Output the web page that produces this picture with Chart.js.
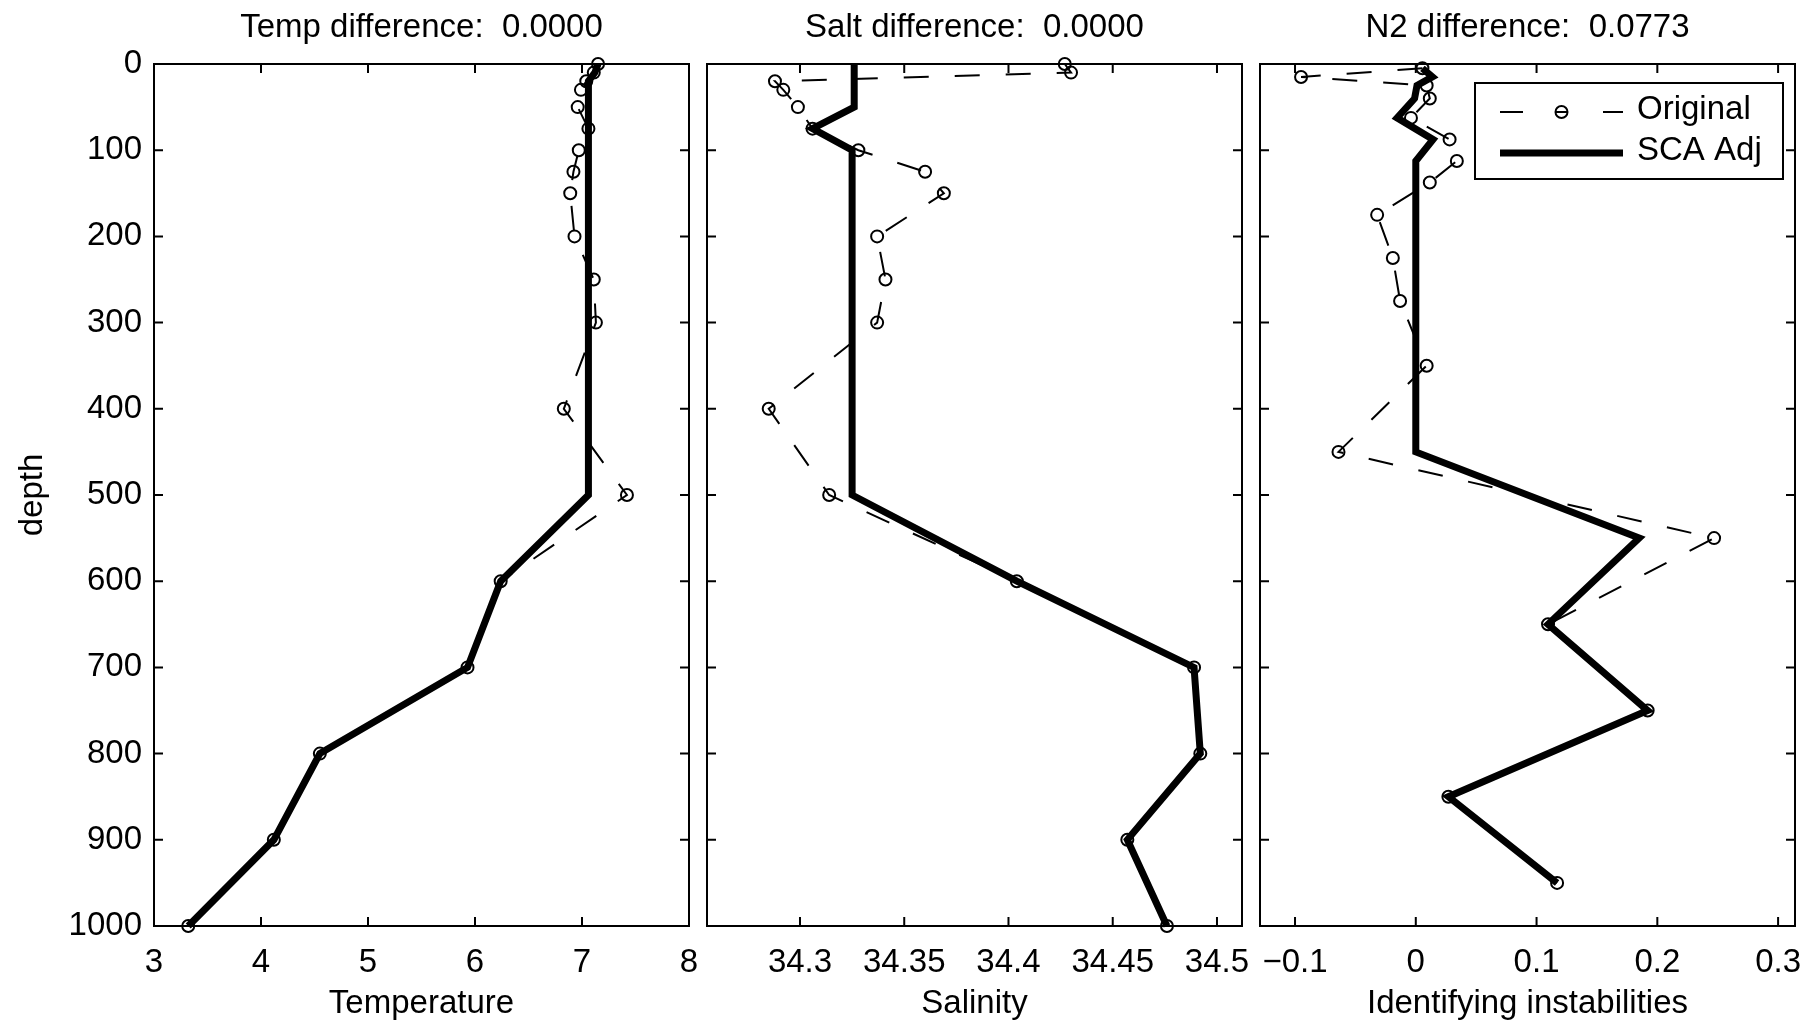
<!DOCTYPE html>
<html>
<head>
<meta charset="utf-8">
<script src="https://cdn.jsdelivr.net/npm/chart.js@4.4.1/dist/chart.umd.min.js"></script>
<style>
  html, body { margin: 0; padding: 0; background: #fff; }
  #wrap { position: relative; width: 1815px; height: 1020px; }
  #wrap canvas { position: absolute; left: 0; top: 0; }
</style>
</head>
<body>
<div id="wrap">
  <canvas id="temp-chart" width="1815" height="1020"></canvas>
  <canvas id="salt-chart" width="1815" height="1020"></canvas>
  <canvas id="n2-chart" width="1815" height="1020"></canvas>
</div>
<script>
// depths of the standard levels and of the mid-points used for N2
const depths = [0, 10, 20, 30, 50, 75, 100, 125, 150, 200, 250, 300, 400, 500, 600, 700, 800, 900, 1000];
const n2Depths = [5, 15, 25, 40, 62.5, 87.5, 112.5, 137.5, 175, 225, 275, 350, 450, 550, 650, 750, 850, 950];

const tempOriginal = [7.15, 7.11, 7.04, 6.99, 6.96, 7.06, 6.97, 6.92, 6.89, 6.93, 7.11, 7.13, 6.83, 7.42, 6.24, 5.93, 4.55, 4.12, 3.32];
const tempAdjusted = [7.15, 7.12, 7.06, 7.06, 7.06, 7.06, 7.06, 7.06, 7.06, 7.06, 7.06, 7.06, 7.06, 7.06, 6.24, 5.93, 4.55, 4.12, 3.32];

const saltOriginal = [34.427, 34.430, 34.288, 34.292, 34.299, 34.306, 34.328, 34.360, 34.369, 34.337, 34.341, 34.337, 34.285, 34.314, 34.404, 34.489, 34.492, 34.457, 34.476];
const saltAdjusted = [34.326, 34.326, 34.326, 34.326, 34.326, 34.306, 34.325, 34.325, 34.325, 34.325, 34.325, 34.325, 34.325, 34.325, 34.404, 34.489, 34.492, 34.457, 34.476];

const n2Original = [0.0055, -0.095, 0.009, 0.0116, -0.004, 0.028, 0.034, 0.0116, -0.032, -0.019, -0.013, 0.009, -0.064, 0.247, 0.1095, 0.192, 0.027, 0.117];
const n2Adjusted = [0.0055, 0.0138, 0.001, -0.001, -0.0155, 0.0143, 0, 0, 0, 0, 0, 0, 0, 0.185, 0.1095, 0.192, 0.027, 0.117];

const depthTicks = [0, 100, 200, 300, 400, 500, 600, 700, 800, 900, 1000];
const depthTickLabels = ['0', '100', '200', '300', '400', '500', '600', '700', '800', '900', '1000'];
const tempTicks = [3, 4, 5, 6, 7, 8];
const tempTickLabels = ['3', '4', '5', '6', '7', '8'];
const saltTicks = [34.3, 34.35, 34.4, 34.45, 34.5];
const saltTickLabels = ['34.3', '34.35', '34.4', '34.45', '34.5'];
const n2Ticks = [-0.1, 0, 0.1, 0.2, 0.3];
const n2TickLabels = ['\u22120.1', '0', '0.1', '0.2', '0.3'];

const panelTitles = ['Temp difference:  0.0000', 'Salt difference:  0.0000', 'N2 difference:  0.0773'];
const axisTitles = ['Temperature', 'Salinity', 'Identifying instabilities'];
const seriesNames = ['Original', 'SCA Adj'];

Chart.defaults.font.family = '"Liberation Sans", Arial, Helvetica, sans-serif';
Chart.defaults.font.size = 33;
Chart.defaults.color = '#000';

// box round the plot area, with inward ticks on all four sides
const frame = {
  id: 'frame',
  beforeDatasetsDraw(chart, args, opts) {
    const { ctx, chartArea: a, scales } = chart;
    const t = 9;
    ctx.save();
    ctx.strokeStyle = '#000';
    ctx.lineWidth = 2;
    ctx.beginPath();
    opts.xTicks.forEach(v => {
      const px = scales.x.getPixelForValue(v);
      ctx.moveTo(px, a.bottom); ctx.lineTo(px, a.bottom - t);
      ctx.moveTo(px, a.top); ctx.lineTo(px, a.top + t);
    });
    depthTicks.forEach(v => {
      const py = scales.y.getPixelForValue(v);
      ctx.moveTo(a.left, py); ctx.lineTo(a.left + t, py);
      ctx.moveTo(a.right, py); ctx.lineTo(a.right - t, py);
    });
    ctx.stroke();
    ctx.strokeRect(a.left, a.top, a.right - a.left, a.bottom - a.top);
    ctx.restore();
  }
};

const legendBox = {
  id: 'legendBox',
  afterDraw(chart, args, o) {
    if (!o.show) return;
    const ctx = chart.ctx;
    ctx.save();
    ctx.fillStyle = '#fff';
    ctx.fillRect(o.x, o.y, o.w, o.h);
    ctx.strokeStyle = '#000';
    ctx.lineWidth = 2;
    ctx.strokeRect(o.x, o.y, o.w, o.h);

    const y1 = o.y + 29, y2 = o.y + 70;
    const x0 = o.x + 25, x1 = o.x + 148;
    // Original sample: dashed line with a circle
    ctx.lineWidth = 2;
    ctx.setLineDash([23, 80]);
    ctx.beginPath(); ctx.moveTo(x0, y1); ctx.lineTo(x1, y1); ctx.stroke();
    ctx.setLineDash([]);
    ctx.beginPath(); ctx.arc((x0 + x1) / 2, y1, 6, 0, Math.PI * 2); ctx.stroke();
    ctx.beginPath(); ctx.moveTo((x0 + x1) / 2 - 6, y1); ctx.lineTo((x0 + x1) / 2 + 6, y1); ctx.stroke();
    // SCA Adj sample
    ctx.lineWidth = 7;
    ctx.beginPath(); ctx.moveTo(x0, y2); ctx.lineTo(x1, y2); ctx.stroke();

    ctx.fillStyle = '#000';
    ctx.font = '33px "Liberation Sans", Arial, sans-serif';
    ctx.textBaseline = 'middle';
    ctx.fillText(seriesNames[0], x1 + 14, y1 - 2);
    ctx.fillText(seriesNames[1], x1 + 14, y2 - 2);
    ctx.restore();
  }
};

function pairs(xs, ys) {
  return xs.map((v, i) => ({ x: v, y: ys[i] }));
}

function makePanel(id, cfg) {
  return new Chart(document.getElementById(id), {
    type: 'scatter',
    data: {
      datasets: [
        {
          label: seriesNames[1],
          data: pairs(cfg.adj, cfg.depth),
          showLine: true,
          borderColor: '#000',
          borderWidth: 7,
          pointRadius: 0,
          clip: false
        },
        {
          label: seriesNames[0],
          data: pairs(cfg.orig, cfg.depth),
          showLine: true,
          borderColor: '#000',
          borderWidth: 2,
          borderDash: [25, 26],
          pointRadius: 6,
          pointBorderWidth: 2,
          pointBorderColor: '#000',
          pointBackgroundColor: 'rgba(0,0,0,0)',
          clip: false
        }
      ]
    },
    options: {
      responsive: false,
      devicePixelRatio: 1,
      animation: false,
      events: [],
      layout: { padding: { left: cfg.padLeft, right: cfg.padRight, top: 0, bottom: 0 } },
      plugins: {
        legend: { display: false },
        tooltip: { enabled: false },
        title: {
          display: true,
          text: cfg.title,
          fullSize: false,
          color: '#000',
          font: { size: 33, weight: 'normal', lineHeight: 1.2 },
          padding: { top: 8.5, bottom: 15.9 }
        },
        frame: { xTicks: cfg.xTicks },
        legendBox: cfg.legend || { show: false }
      },
      scales: {
        x: {
          type: 'linear',
          position: 'bottom',
          min: cfg.xMin,
          max: cfg.xMax,
          grid: { display: false, drawTicks: false },
          border: { display: false },
          afterBuildTicks: s => { s.ticks = cfg.xTicks.map(v => ({ value: v })); },
          afterFit: s => { s.height = 94; s.paddingLeft = 0; s.paddingRight = 0; },
          ticks: {
            autoSkip: false,
            maxRotation: 0,
            padding: 17,
            color: '#000',
            callback: (v, i) => cfg.xLabels[i]
          },
          title: {
            display: true,
            text: cfg.xTitle,
            color: '#000',
            font: { size: 33, lineHeight: 1 },
            padding: { top: 0, bottom: 0 }
          }
        },
        y: {
          type: 'linear',
          reverse: true,
          min: 0,
          max: 1000,
          display: cfg.showY,
          grid: { display: false, drawTicks: false },
          border: { display: false },
          afterBuildTicks: s => { s.ticks = depthTicks.map(v => ({ value: v })); },
          afterFit: s => { s.width = cfg.showY ? 154 : 0; s.paddingTop = 0; s.paddingBottom = 0; },
          ticks: {
            padding: 12,
            color: '#000',
            callback: (v, i) => depthTickLabels[i]
          },
          title: {
            display: true,
            text: 'depth',
            color: '#000',
            font: { size: 33, lineHeight: 1 },
            padding: { top: 16.5, bottom: 0 }
          }
        }
      }
    },
    plugins: [frame, legendBox]
  });
}

makePanel('temp-chart', {
  depth: depths, orig: tempOriginal, adj: tempAdjusted,
  title: panelTitles[0], xTitle: axisTitles[0],
  xMin: 3, xMax: 8, xTicks: tempTicks, xLabels: tempTickLabels,
  padLeft: 0, padRight: 1815 - 689, showY: true
});

makePanel('salt-chart', {
  depth: depths, orig: saltOriginal, adj: saltAdjusted,
  title: panelTitles[1], xTitle: axisTitles[1],
  xMin: 34.2554, xMax: 34.512, xTicks: saltTicks, xLabels: saltTickLabels,
  padLeft: 707, padRight: 1815 - 1242, showY: false
});

makePanel('n2-chart', {
  depth: n2Depths, orig: n2Original, adj: n2Adjusted,
  title: panelTitles[2], xTitle: axisTitles[2],
  xMin: -0.129, xMax: 0.314, xTicks: n2Ticks, xLabels: n2TickLabels,
  padLeft: 1260, padRight: 1815 - 1795, showY: false,
  legend: { show: true, x: 1475, y: 83, w: 308, h: 96 }
});
</script>
</body>
</html>
